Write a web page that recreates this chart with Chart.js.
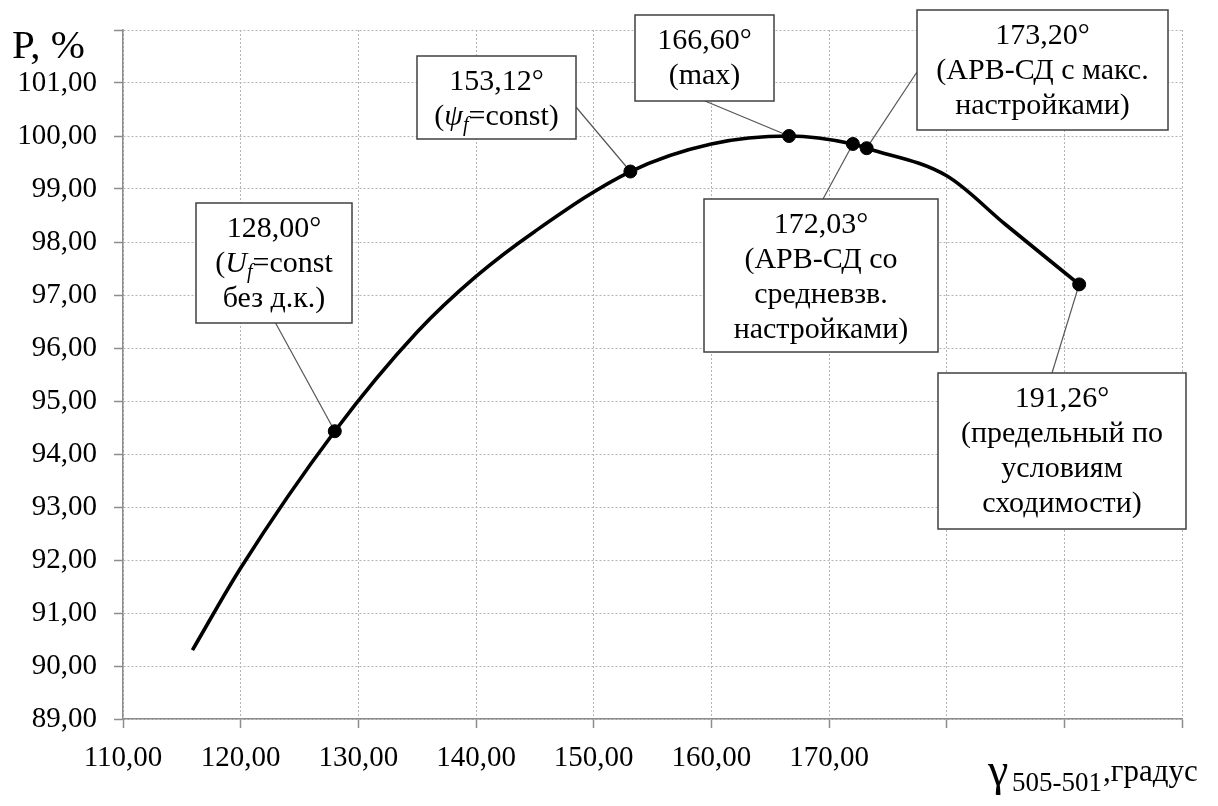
<!DOCTYPE html>
<html>
<head>
<meta charset="utf-8">
<script src="https://cdn.jsdelivr.net/npm/chart.js@4.4.0/dist/chart.umd.min.js"></script>
<style>
  html, body { margin: 0; padding: 0; background: #fff; }
  canvas { display: block; }
</style>
</head>
<body>
<canvas id="powerChart" width="1218" height="806"></canvas>
<script>
// =====================
// Data
// =====================

// P(γ) curve, angle in degrees and power in %
const curveAngle = [115.9, 120, 128, 135, 140, 145, 153.12, 160, 166.6, 172.03, 173.2, 180, 185, 191.26];
const curvePower = [90.3, 91.85, 94.43, 96.3, 97.35, 98.2, 99.33, 99.85, 100.0, 99.85, 99.77, 99.25, 98.33, 97.2];

// marked operating points
const markAngle = [128.0, 153.12, 166.6, 172.03, 173.2, 191.26];
const markPower = [94.43, 99.33, 100.0, 99.85, 99.77, 97.2];

const xTicks = [110, 120, 130, 140, 150, 160, 170];
const FONT = '"Liberation Serif", "Times New Roman", serif';

// callout text, one line per entry; segments: [text, style] (i = italic, s = italic subscript)
const callouts = [
  { mark: 0, box: [196, 203, 156, 120], anchor: [275, 322],
    lines: [[['128,00°']], [['('], ['U', 'i'], ['f', 's'], ['=const']], [['без д.к.)']]] },
  { mark: 1, box: [417, 56, 159, 83], anchor: [576, 107],
    lines: [[['153,12°']], [['('], ['ψ', 'i'], ['f', 's'], ['=const)']]] },
  { mark: 2, box: [635, 15, 139, 86], anchor: [705, 101],
    lines: [[['166,60°']], [['(max)']]] },
  { mark: 4, box: [917, 10, 251, 120], anchor: [917, 72],
    lines: [[['173,20°']], [['(АРВ-СД с макс.']], [['настройками)']]] },
  { mark: 3, box: [704, 199, 234, 153], anchor: [823, 199],
    lines: [[['172,03°']], [['(АРВ-СД со']], [['средневзв.']], [['настройками)']]] },
  { mark: 5, box: [938, 373, 248, 156], anchor: [1052, 373],
    lines: [[['191,26°']], [['(предельный по']], [['условиям']], [['сходимости)']]] }
];

function fmt(v) {
  return v.toFixed(2).replace('.', ',');
}

// =====================
// Callouts and axis titles
// =====================

function segFont(style) {
  if (style === 'i') return 'italic 30px ' + FONT;
  if (style === 's') return 'italic 20px ' + FONT;
  return '30px ' + FONT;
}

const calloutPlugin = {
  id: 'callouts',
  beforeDatasetsDraw(chart) {
    const ctx = chart.ctx;
    const xs = chart.scales.x;
    const ys = chart.scales.y;
    ctx.save();
    ctx.strokeStyle = '#555';
    ctx.lineWidth = 1.2;
    callouts.forEach(c => {
      ctx.beginPath();
      ctx.moveTo(c.anchor[0], c.anchor[1]);
      ctx.lineTo(xs.getPixelForValue(markAngle[c.mark]), ys.getPixelForValue(markPower[c.mark]));
      ctx.stroke();
    });
    ctx.restore();
  },
  afterDraw(chart) {
    const ctx = chart.ctx;
    ctx.save();
    callouts.forEach(c => {
      const [bx, by, bw, bh] = c.box;
      ctx.fillStyle = '#fff';
      ctx.fillRect(bx, by, bw, bh);
      ctx.strokeStyle = '#404040';
      ctx.lineWidth = 1.5;
      ctx.strokeRect(bx, by, bw, bh);

      ctx.fillStyle = '#000';
      ctx.textBaseline = 'alphabetic';
      ctx.textAlign = 'left';
      c.lines.forEach((line, i) => {
        let total = 0;
        line.forEach(seg => {
          ctx.font = segFont(seg[1]);
          total += ctx.measureText(seg[0]).width;
        });
        let x = bx + (bw - total) / 2;
        const base = by + 34 + i * 35;
        line.forEach(seg => {
          ctx.font = segFont(seg[1]);
          ctx.fillText(seg[0], x, seg[1] === 's' ? base + 6 : base);
          x += ctx.measureText(seg[0]).width;
        });
      });
    });

    // axis titles
    ctx.fillStyle = '#000';
    ctx.font = '41px ' + FONT;
    ctx.fillText('P, %', 12, 58);
    ctx.font = '46px ' + FONT;
    ctx.fillText('γ', 988, 785);
    ctx.font = '27px ' + FONT;
    ctx.fillText('505-501', 1012, 791);
    const subEnd = 1012 + ctx.measureText('505-501').width;
    ctx.font = '31px ' + FONT;
    ctx.fillText(',градус', subEnd + 1, 781);
    ctx.restore();
  }
};

// =====================
// Chart
// =====================

const gridStyle = {
  color: '#b4b4b4',
  lineWidth: 1,
  tickColor: '#8c8c8c',
  tickLength: 9,
  tickWidth: 1.5
};
const borderStyle = { color: '#8c8c8c', width: 1.5, dash: [2, 2] };

new Chart(document.getElementById('powerChart'), {
  type: 'scatter',
  data: {
    datasets: [
      {
        data: curveAngle.map((a, i) => ({ x: a, y: curvePower[i] })),
        showLine: true,
        borderColor: '#000',
        borderWidth: 3.6,
        pointRadius: 0,
        cubicInterpolationMode: 'monotone'
      },
      {
        data: markAngle.map((a, i) => ({ x: a, y: markPower[i] })),
        showLine: false,
        pointRadius: 6.5,
        pointBackgroundColor: '#000',
        pointBorderColor: '#000'
      }
    ]
  },
  options: {
    responsive: false,
    animation: false,
    layout: { autoPadding: false, padding: { left: 17, right: 36, top: 30, bottom: 30 } },
    plugins: {
      legend: { display: false },
      tooltip: { enabled: false }
    },
    scales: {
      x: {
        type: 'linear',
        min: 110,
        max: 200,
        afterFit: s => { s.height = 57; s.paddingLeft = 0; s.paddingRight = 0; },
        ticks: {
          stepSize: 10,
          autoSkip: false,
          maxRotation: 0,
          padding: 13,
          color: '#000',
          font: { family: FONT, size: 29 },
          callback: v => (xTicks.includes(v) ? fmt(v) : '')
        },
        grid: gridStyle,
        border: borderStyle
      },
      y: {
        min: 89,
        max: 102,
        afterFit: s => { s.width = 106; s.paddingTop = 0; s.paddingBottom = 0; },
        ticks: {
          stepSize: 1,
          padding: 17,
          color: '#000',
          font: { family: FONT, size: 29 },
          callback: v => (v < 102 ? fmt(v) : '')
        },
        grid: gridStyle,
        border: borderStyle
      }
    }
  },
  plugins: [calloutPlugin]
});
</script>
</body>
</html>
